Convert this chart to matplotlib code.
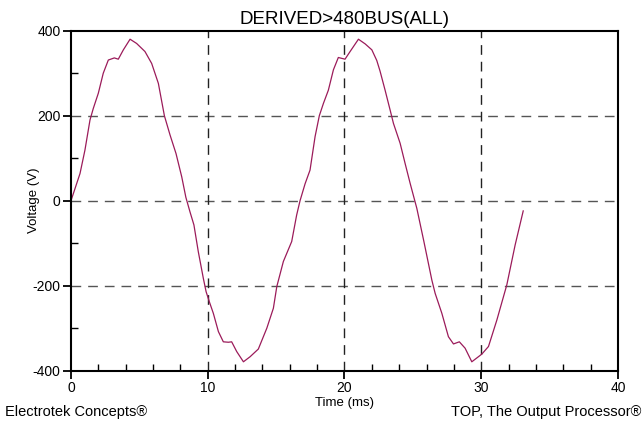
import numpy as np
import matplotlib
matplotlib.use("Agg")
import matplotlib.pyplot as plt
from matplotlib.ticker import MultipleLocator

# waveform: time (ms), voltage (V)
time_ms = [0, 0.66, 1.02, 1.39, 1.63, 2.0, 2.36, 2.73, 3.17, 3.46, 3.83, 4.32,
           4.8, 5.41, 5.9, 6.39, 6.83, 7.24, 7.68, 8.1, 8.4, 8.7, 8.99, 9.31,
           9.68, 9.88, 10.12, 10.41, 10.78, 11.14, 11.51, 11.75, 12.12, 12.61,
           13.1, 13.7, 14.32, 14.8, 15.05, 15.53, 16.14, 16.5, 16.75, 17.12,
           17.48, 17.85, 18.16, 18.46, 18.82, 19.19, 19.55, 20.04, 20.41, 21.02,
           21.51, 22.0, 22.36, 22.6, 22.97, 23.34, 23.58, 24.07, 24.43, 24.8,
           25.29, 25.8, 26.39, 26.63, 27.12, 27.6, 27.97, 28.4, 28.82, 29.31,
           30.04, 30.53, 31.14, 31.87, 32.48, 33.07]
volts = [0, 64, 119, 190, 217, 253, 300, 331, 336, 333, 355, 380,
         370, 351, 323, 276, 200, 155, 111, 56, 8, -26, -57, -120,
         -183, -214, -238, -265, -308, -332, -333, -332, -355, -379,
         -367, -349, -300, -253, -202, -143, -96, -34, 0, 40,
         72, 151, 200, 229, 260, 308, 337, 333, 351, 380,
         369, 355, 330, 305, 260, 213, 182, 135, 88, 41,
         -18, -95, -187, -218, -265, -320, -337, -332, -347, -379,
         -361, -343, -281, -198, -104, -24]

title = "DERIVED>480BUS(ALL)"
xlabel = "Time (ms)"
ylabel = "Voltage (V)"
foot_left = "Electrotek Concepts\u00ae"
foot_right = "TOP, The Output Processor\u00ae"

plt.rcParams['font.family'] = ['Liberation Sans', 'DejaVu Sans']
plt.rcParams['axes.unicode_minus'] = False

fig = plt.figure(figsize=(6.43, 4.23), dpi=100)
ax = fig.add_axes([0.1104, 0.1236, 0.8507, 0.8038])

ax.plot(time_ms, volts, color='#9b1b5a', lw=0.9)

ax.set_xlim(0, 40)
ax.set_ylim(-400, 400)
ax.xaxis.set_major_locator(MultipleLocator(10))
ax.xaxis.set_minor_locator(MultipleLocator(2))
ax.yaxis.set_major_locator(MultipleLocator(200))
ax.yaxis.set_minor_locator(MultipleLocator(100))

for v in [200, 0, -200]:
    ax.axhline(v, color='#555555', lw=1.0, ls=(0, (7, 5)), zorder=1)
for t in [10, 20, 30]:
    ax.axvline(t, color='#222222', lw=1.0, ls=(0, (7, 5)), zorder=1)

for s in ax.spines.values():
    s.set_linewidth(1.5)
ax.tick_params(which='major', direction='out', length=6, width=1.3, labelsize=10, pad=1.5)
ax.tick_params(which='minor', direction='in', length=5, width=1.0)
ax.tick_params(top=False, right=False)

ax.set_title(title, fontsize=13.5, pad=5)
ax.set_xlabel(xlabel, fontsize=9.5, labelpad=1)
ax.set_ylabel(ylabel, fontsize=9.5)
ax.yaxis.set_label_coords(-0.056, 0.5)

fig.text(0.008, 0.025, foot_left, fontsize=10.5, ha='left', va='center')
fig.text(0.997, 0.025, foot_right, fontsize=10.5, ha='right', va='center')

fig.savefig("out.png", dpi=100)
